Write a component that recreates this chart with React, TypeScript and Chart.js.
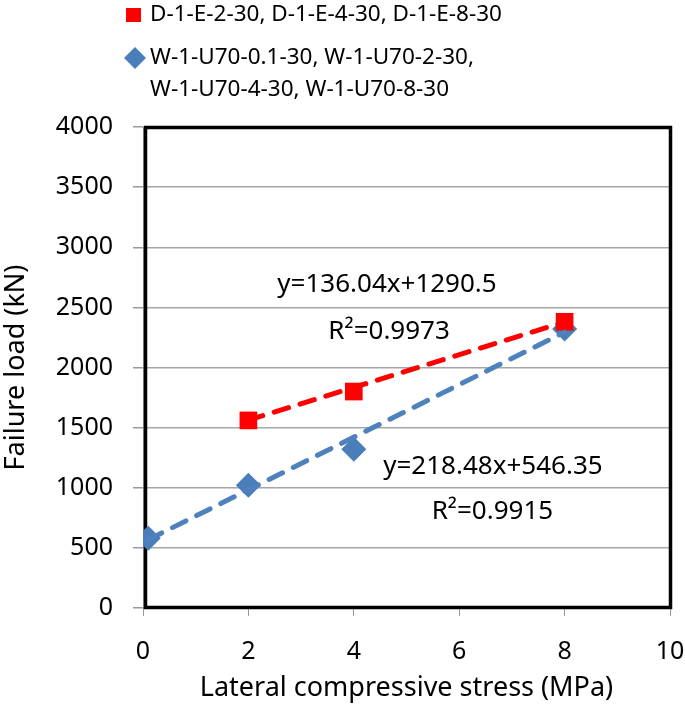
import React, { useEffect, useRef } from "react";
import { Chart, registerables } from "chart.js";

Chart.register(...registerables);

// ---- data ----
const redX = [2, 4, 8];
const redY = [1560, 1800, 2380];
const blueX = [0.1, 2, 4, 8];
const blueY = [580, 1020, 1320, 2320];

const redLegend = ["D-1-E-2-30, D-1-E-4-30, D-1-E-8-30"];
const blueLegend = ["W-1-U70-0.1-30, W-1-U70-2-30,", "W-1-U70-4-30, W-1-U70-8-30"];

const redFit = [136.04, 1290.5]; // slope, intercept
const blueFit = [218.48, 546.35];
const redFitText = ["y=136.04x+1290.5", "R²=0.9973"];
const blueFitText = ["y=218.48x+546.35", "R²=0.9915"];
// anchor positions (data coords) of equation labels
const redFitTextPos = [[4.63, 2686], [4.67, 2295]];
const blueFitTextPos = [[6.64, 1173], [6.63, 798]];

const xTickMin = 0, xTickMax = 10, xTickStep = 2;
const yTickMin = 0, yTickMax = 4000, yTickStep = 500;

const RED = "#ff0000";
const BLUE = "#4a7ebb";
const FONT = "'Noto Sans', 'Open Sans', sans-serif";

export default function App() {
  const ref = useRef<HTMLCanvasElement>(null);

  useEffect(() => {
    const canvas = ref.current!;
    const line = (f: number[], xs: number[]) => {
      const a = Math.min(...xs), b = Math.max(...xs);
      return [{ x: a, y: f[0] * a + f[1] }, { x: b, y: f[0] * b + f[1] }];
    };

    const framePlugin = {
      id: "frame",
      beforeDatasetsDraw(chart: any) {
        const { ctx, chartArea: a } = chart;
        ctx.save();
        ctx.strokeStyle = "#000";
        ctx.lineWidth = 3.5;
        ctx.beginPath();
        ctx.rect(a.left + 2.5, a.top + 0.5, a.right - a.left - 2, a.bottom - a.top - 1);
        ctx.stroke();
        ctx.restore();
      },
    };

    const textPlugin = {
      id: "texts",
      afterDatasetsDraw(chart: any) {
        const { ctx, scales } = chart;
        ctx.save();
        ctx.fillStyle = "#000";
        ctx.font = `26px ${FONT}`;
        ctx.textAlign = "center";
        ctx.textBaseline = "middle";
        const put = (txt: string[], pos: number[][]) => {
          txt.forEach((t, i) => {
            ctx.fillText(t, scales.x.getPixelForValue(pos[i][0]), scales.y.getPixelForValue(pos[i][1]));
          });
        };
        put(redFitText, redFitTextPos);
        put(blueFitText, blueFitTextPos);

        // legend
        ctx.textAlign = "left";
        ctx.font = `22.5px ${FONT}`;
        ctx.fillStyle = RED;
        ctx.fillRect(126, 8, 15, 14);
        ctx.fillStyle = "#000";
        redLegend.forEach((t, i) => ctx.fillText(t, 150, 15 + i * 32));
        ctx.fillStyle = BLUE;
        ctx.beginPath();
        ctx.moveTo(135, 47);
        ctx.lineTo(146, 58);
        ctx.lineTo(135, 69);
        ctx.lineTo(124, 58);
        ctx.closePath();
        ctx.fill();
        ctx.fillStyle = "#000";
        blueLegend.forEach((t, i) => ctx.fillText(t, 150, 58 + i * 32));
        ctx.restore();
      },
    };

    const tickFont = { family: FONT, size: 25 };
    const titleFont = { family: FONT, size: 27 };

    const chart = new Chart(canvas, {
      type: "scatter",
      data: {
        datasets: [
          {
            label: redLegend.join(" "),
            data: redX.map((x, i) => ({ x, y: redY[i] })),
            backgroundColor: RED,
            borderColor: RED,
            pointStyle: "rect",
            pointRadius: 12.5,
            borderWidth: 0,
            order: 2,
          },
          {
            label: blueLegend.join(" "),
            data: blueX.map((x, i) => ({ x, y: blueY[i] })),
            backgroundColor: BLUE,
            borderColor: BLUE,
            pointStyle: "rectRot",
            pointRadius: 12.5,
            borderWidth: 0,
            order: 2,
          },
          {
            label: "Linear (red)",
            data: line(redFit, redX),
            showLine: true,
            borderColor: RED,
            borderWidth: 5,
            borderDash: [15, 12],
            borderCapStyle: "round",
            pointRadius: 0,
            order: 1,
          },
          {
            label: "Linear (blue)",
            data: line(blueFit, blueX),
            showLine: true,
            borderColor: "#4f81bd",
            borderWidth: 5,
            borderDash: [15, 12],
            borderCapStyle: "round",
            pointRadius: 0,
            order: 1,
          },
        ],
      },
      options: {
        animation: false,
        responsive: false,
        layout: { padding: { top: 127, right: 15, left: 0, bottom: 0 } },
        plugins: { legend: { display: false }, tooltip: { enabled: false } },
        scales: {
          x: {
            type: "linear",
            min: xTickMin,
            max: xTickMax,
            ticks: { stepSize: xTickStep, color: "#000", font: tickFont, padding: 21, callback: (v: any) => String(v) },
            grid: { drawOnChartArea: false, tickLength: 8, color: "#999", tickColor: "#999" },
            border: { color: "#999", width: 1 },
            title: {
              display: true,
              text: "Lateral compressive stress (MPa)",
              color: "#000",
              font: titleFont,
              padding: 0,
            },
            afterFit: (s: any) => {
              s.height = 97;
              s.paddingLeft = 0;
              s.paddingRight = 15;
            },
          },
          y: {
            type: "linear",
            min: yTickMin,
            max: yTickMax,
            ticks: { stepSize: yTickStep, color: "#000", font: tickFont, padding: 20, callback: (v: any) => String(v) },
            grid: { color: "#a6a6a6", lineWidth: 1.5, tickLength: 10, tickColor: "#999" },
            border: { color: "#999", width: 1 },
            title: {
              display: true,
              text: "Failure load (kN)",
              color: "#000",
              font: titleFont,
              padding: 0,
            },
            afterFit: (s: any) => {
              s.width = 143;
              s.paddingTop = 0;
              s.paddingBottom = 0;
            },
          },
        },
      },
      plugins: [framePlugin, textPlugin],
    } as any);
    return () => chart.destroy();
  }, []);

  return (
    <div style={{ position: "fixed", left: 0, top: 0, width: 685, height: 705, background: "#fff" }}>
      <canvas ref={ref} width={685} height={705} />
    </div>
  );
}
